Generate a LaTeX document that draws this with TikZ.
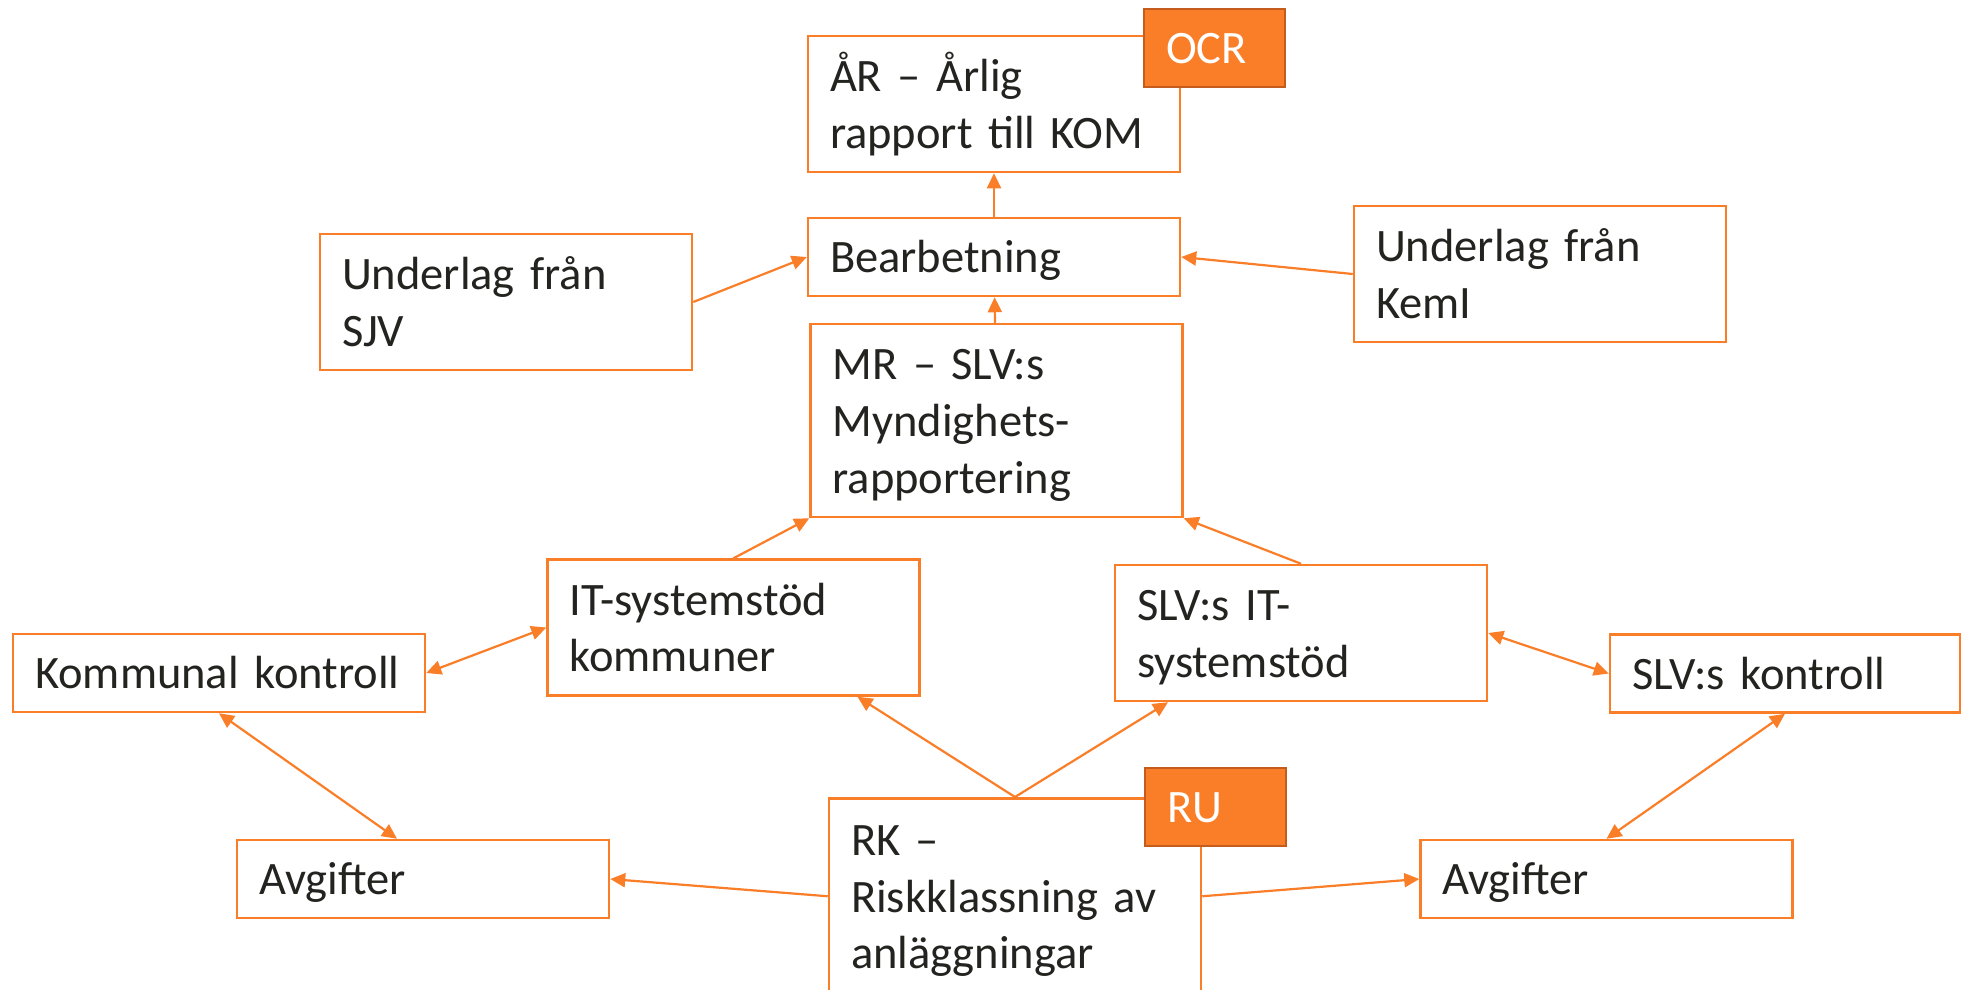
\documentclass[tikz,border=0pt]{standalone}
\usepackage{fontspec}
\setmainfont{Carlito}
\usepackage{tikz}
\usetikzlibrary{arrows.meta}
\usepackage{xcolor}
\definecolor{flowOrange}{RGB}{250,125,40}
\definecolor{tagBorder}{RGB}{195,92,28}
\definecolor{inkDark}{RGB}{35,35,32}
\newcommand{\boxstrut}{\rule[-12.4pt]{0pt}{56.6pt}}

\begin{document}
\begin{tikzpicture}[
    x=1pt, y=-1pt,
    every node/.style={font=\fontsize{46.5}{56.7}\selectfont},
    block/.style={rectangle, draw=flowOrange, fill=white, line width=2.5pt, text=inkDark, align=left, inner xsep=22pt, inner ysep=0pt, text width=328pt, minimum height=#1, execute at begin node=\boxstrut, execute at end node=\boxstrut},
    block/.default=136pt,
    tag/.style={block=78pt, draw=tagBorder, fill=flowOrange, text=white, text width=97pt},
    flow/.style={-{Triangle[length=15pt, width=14pt]}, draw=flowOrange, line width=2.2pt},
    twoway/.style={{Triangle[length=15pt, width=14pt]}-{Triangle[length=15pt, width=14pt]}, draw=flowOrange, line width=2.2pt},
]
\clip (0,0) rectangle (1962,989);
% TOP
\node[block] (ar) at (994,104) {ÅR – Årlig\\rapport till KOM};
\node[tag] (ocr) at (1214.5,48) {OCR};
\node[block=78pt] (bear) at (994,257) {Bearbetning};
\node[block] (sjv) at (506,302) {Underlag från\\SJV};
\node[block] (kemi) at (1540,274) {Underlag från\\KemI};
\node[block=193pt] (mr) at (996.5,420.5) {MR – SLV:s\\Myndighets-\\rapportering};
% MIDDLE
\node[block] (itk) at (733.5,627.5) {IT-systemstöd\\kommuner};
\node[block] (slvit) at (1301,633) {SLV:s IT-\\systemstöd};
\node[block=78pt, text width=368pt] (kk) at (219,673) {Kommunal kontroll};
\node[block=78pt, text width=306pt] (slvk) at (1785,673.5) {SLV:s kontroll};
% BOTTOM
\node[block=78pt] (avgL) at (423,879) {Avgifter};
\node[block=78pt] (avgR) at (1606.5,879) {Avgifter};
\node[block=196pt, anchor=north] (rk) at (1015,797) {RK –\\Riskklassning av\\anläggningar};
\node[tag] (ru) at (1215.5,807) {RU};
% CONNECTORS
\draw[flow] (bear) -- (ar);
\draw[flow] (mr) -- (bear);
\draw[flow] (sjv.east) -- (bear.west);
\draw[flow] (kemi.west) -- (bear.east);
\draw[flow] (itk.north) -- (mr.south west);
\draw[flow] (slvit.north) -- (mr.south east);
\draw[twoway] (kk.east) -- (itk.west);
\draw[twoway] (slvit.east) -- (slvk.west);
\draw[twoway] (kk.south) -- ([xshift=-26pt]avgL.north);
\draw[twoway] (slvk.south) -- (avgR.north);
\draw[flow] (rk.north) -- ([xshift=124pt]itk.south);
\draw[flow] (rk.north) -- ([xshift=-133pt]slvit.south);
\draw[flow] (rk.west) -- (avgL.east);
\draw[flow] (rk.east) -- (avgR.west);
\end{tikzpicture}
\end{document}
